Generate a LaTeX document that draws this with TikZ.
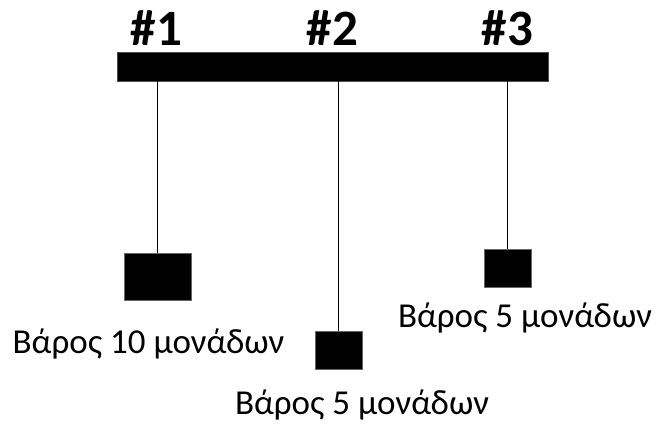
\documentclass[tikz,border=0pt]{standalone}
\usepackage{fontspec}
\setmainfont{Carlito}
\begin{document}
\begin{tikzpicture}[x=1pt,y=-1pt,
  weight/.style={draw=black!60,line width=0.8pt,fill=black,inner sep=0pt,minimum width=#1},
  numlabel/.style={font=\fontsize{51}{55}\selectfont\bfseries,anchor=base,inner sep=0pt},
  wlabel/.style={font=\fontsize{35}{38}\selectfont,anchor=base,inner sep=0pt},
  string/.style={line width=1.6pt}]
\useasboundingbox (0,0) rectangle (658,423);
\node[fill=black,draw=black!70,line width=0.8pt,minimum width=431pt,minimum height=29pt,inner sep=0pt] (bar) at (332.5,66.5) {};
\node[numlabel] (n1) at (156.5,45) {\#1};
\node[numlabel] (n2) at (332.5,45) {\#2};
\node[numlabel] (n3) at (507.5,45) {\#3};
\node[weight=67pt,minimum height=47pt] (w1) at (157.5,276.5) {};
\node[weight=47pt,minimum height=38pt] (w2) at (338.5,350) {};
\node[weight=47pt,minimum height=38pt] (w3) at (507.5,268) {};
\draw[string] (w1.north) -- (w1.north |- bar.south);
\draw[string] (w2.north) -- (w2.north |- bar.south);
\draw[string] (w3.north) -- (w3.north |- bar.south);
\node[wlabel] (l1) at (148.5,353) {Βάρος 10 μονάδων};
\node[wlabel] (l2) at (362,414) {Βάρος 5 μονάδων};
\node[wlabel] (l3) at (525,327) {Βάρος 5 μονάδων};
\end{tikzpicture}
\end{document}
